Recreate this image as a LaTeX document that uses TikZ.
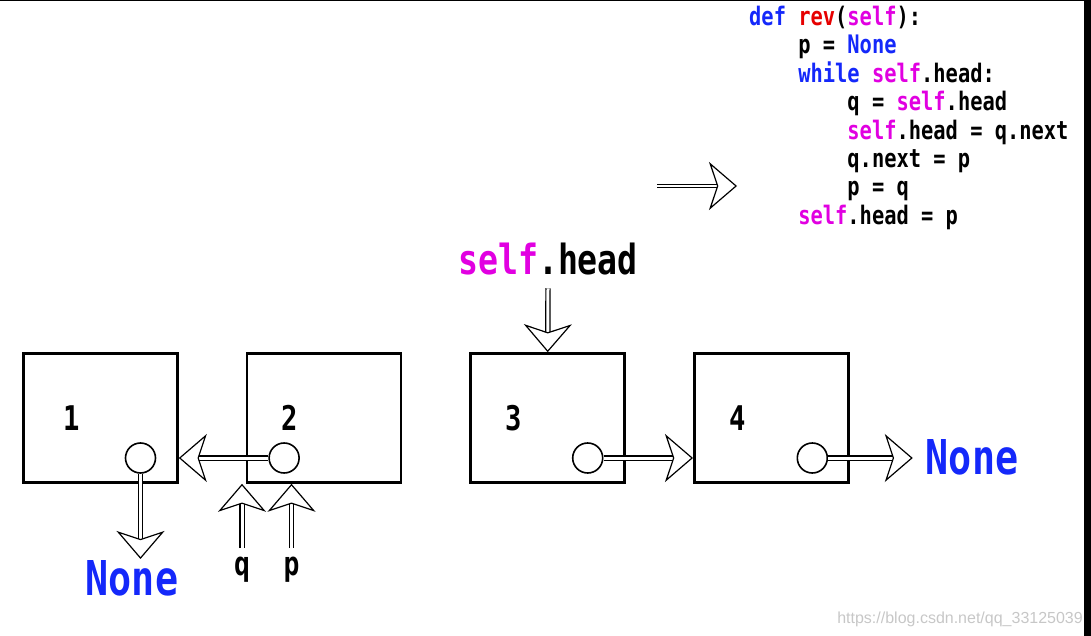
\documentclass[tikz,border=0pt]{standalone}
\usepackage{fontspec}
\usetikzlibrary{arrows.meta, positioning, decorations.markings}
\setsansfont{Liberation Sans}
\newfontfamily\codefont{DejaVu Sans Mono}[FakeStretch=0.8]
\definecolor{kwblue}{RGB}{20,40,250}
\definecolor{fnred}{RGB}{230,0,0}
\definecolor{selfpink}{RGB}{225,0,225}
\newcommand{\slf}{\textcolor{selfpink}{self}}
\newcommand{\ind}{\phantom{0000}}

\begin{document}
\begin{tikzpicture}[
  x=1pt, y=-1pt,
  box/.style={draw, line width=2.6pt, minimum width=154pt, minimum height=129pt, inner sep=0pt},
  ptr/.style={circle, draw, line width=1.6pt, minimum size=30pt, inner sep=0pt},
  num/.style={font=\codefont\bfseries\fontsize{34}{34}\selectfont},
  lbl/.style={font=\codefont\bfseries\fontsize{33}{33}\selectfont, inner sep=9pt, anchor=north},
  none/.style={font=\codefont\bfseries\fontsize{48}{48}\selectfont, text=kwblue, inner sep=1pt},
  link/.style={double, double distance=3pt, line width=1.2pt, shorten >=20pt,
    postaction={decorate, decoration={markings, mark=at position 1 with
      {\arrow[line width=1.2pt]{Stealth[open, length=28pt, width=48pt, inset=8pt]}}}}}
]
\useasboundingbox (0,0) rectangle (1091,636);
\fill (1084,0) rectangle (1091,636);
\draw[line width=1.5pt] (0,0.75) -- (1084,0.75);

\node[box] (n1) at (100.5,418) {};
\node[box, right=67pt of n1] (n2) {};
\node[box, right=67pt of n2] (n3) {};
\node[box, right=67pt of n3] (n4) {};

\node[num] (v1) at ([xshift=-29pt]n1.center) {1};
\node[num] (v2) at ([xshift=-34pt]n2.center) {2};
\node[num] (v3) at ([xshift=-34pt]n3.center) {3};
\node[num] (v4) at ([xshift=-34pt]n4.center) {4};

\node[ptr] (c1) at ([xshift=40pt, yshift=-40pt]n1.center) {};
\node[ptr] (c2) at ([xshift=-40pt, yshift=-40pt]n2.center) {};
\node[ptr] (c3) at ([xshift=40pt, yshift=-40pt]n3.center) {};
\node[ptr] (c4) at ([xshift=41pt, yshift=-40pt]n4.center) {};

\node[none] (nb) at (132,578) {None};
\node[none, outer sep=12pt] (nr) at (972,457) {None};
\node[lbl] (q) at (242,548) {q};
\node[lbl] (p) at (291.5,548) {p};
\node[font=\codefont\bfseries\fontsize{41.5}{41.5}\selectfont, inner sep=2pt] (sh) at (548,259) {\slf.head};

\draw[link] (c1.south) -- (c1.south |- nb.north);
\draw[link] (c2.west) -- (c2.west -| n1.east);
\draw[link] (c3.east) -- (c3.east -| n4.west);
\draw[link] (c4.east) -- (c4.east -| nr.west);
\draw[link] (q.north) -- (q.north |- n2.south);
\draw[link] (p.north) -- (p.north |- n2.south);
\draw[link] ([yshift=-11pt]sh.south) -- (n3.north);

\node[anchor=north west, align=left, inner sep=0pt,
  font=\codefont\bfseries\fontsize{25.5}{28.4}\selectfont] (code) at (749,6) {%
\textcolor{kwblue}{def} \textcolor{fnred}{rev}(\slf):\\
\ind p = \textcolor{kwblue}{None}\\
\ind \textcolor{kwblue}{while} \slf.head:\\
\ind\ind q = \slf.head\\
\ind\ind \slf.head = q.next\\
\ind\ind q.next = p\\
\ind\ind p = q\\
\ind \slf.head = p};

\coordinate (ms) at (657,186);
\coordinate (me) at (737,186);
\draw[link, double distance=2pt, line width=0.9pt] (ms) -- (me);

\node[anchor=east, text=black!22, font=\sffamily\fontsize{16}{16}\selectfont, inner sep=0pt] (wm) at (1083,619) {https://blog.csdn.net/qq\_33125039};
\end{tikzpicture}
\end{document}
